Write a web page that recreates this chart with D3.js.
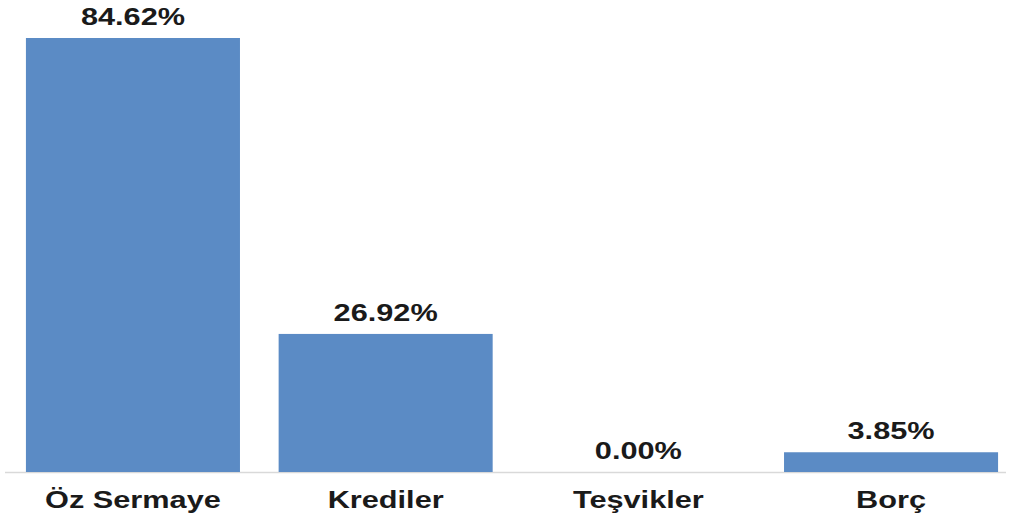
<!DOCTYPE html>
<html><head><meta charset="utf-8">
<script src="https://cdn.jsdelivr.net/npm/d3@7"></script>
<style>body{margin:0;background:#fff}svg{display:block}</style>
</head><body>
<svg id="c" width="1009" height="521"></svg>
<script>
const categories = ["Öz Sermaye", "Krediler", "Teşvikler", "Borç"];
const values = [84.62, 26.92, 0.00, 3.85];
const valueLabels = ["84.62%", "26.92%", "0.00%", "3.85%"];

const svg = d3.select("#c");
const baseY = 472;
const x = d3.scaleBand().domain(categories).range([6.6, 1017.4]).paddingInner(0.153).paddingOuter(0.0765);
const y = d3.scaleLinear().domain([0, 84.62]).range([baseY, 38]);
const sx = 1.28;

svg.append("line").attr("x1", 5).attr("x2", 1006).attr("y1", baseY + 0.5).attr("y2", baseY + 0.5)
  .attr("stroke", "#d9d9d9").attr("stroke-width", 1.5);

svg.selectAll("rect.bar").data(categories).enter().append("rect")
  .attr("class", "bar")
  .attr("x", d => x(d))
  .attr("width", x.bandwidth())
  .attr("y", (d, i) => y(values[i]))
  .attr("height", (d, i) => baseY - y(values[i]))
  .attr("fill", "#5b8bc5");

svg.selectAll("text.val").data(categories).enter().append("text")
  .attr("class", "val")
  .attr("transform", (d, i) => `translate(${x(d) + x.bandwidth() / 2},${y(values[i]) - 13}) scale(${sx},1)`)
  .attr("text-anchor", "middle")
  .attr("font-family", "Liberation Sans, Arial, sans-serif")
  .attr("font-weight", "bold").attr("font-size", 24).attr("fill", "#1a1a1a")
  .text((d, i) => valueLabels[i]);

svg.selectAll("text.cat").data(categories).enter().append("text")
  .attr("class", "cat")
  .attr("transform", d => `translate(${x(d) + x.bandwidth() / 2},508) scale(${sx},1)`)
  .attr("text-anchor", "middle")
  .attr("font-family", "Liberation Sans, Arial, sans-serif")
  .attr("font-weight", "bold").attr("font-size", 24).attr("fill", "#1a1a1a")
  .text(d => d);
</script>
</body></html>
